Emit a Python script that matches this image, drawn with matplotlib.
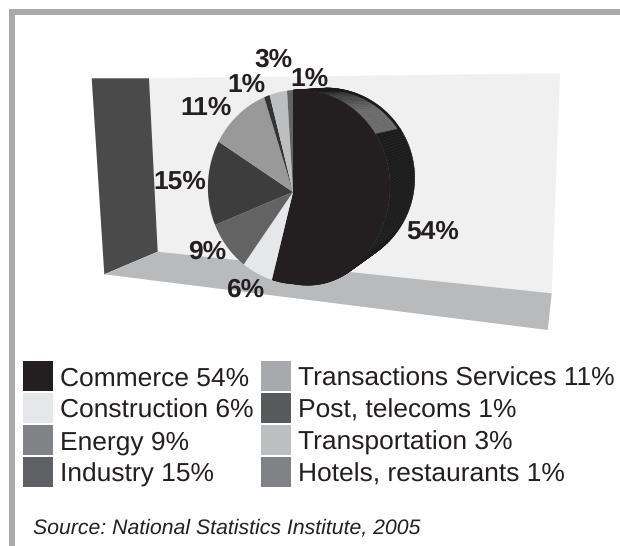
import numpy as np
import matplotlib
matplotlib.use("Agg")
import matplotlib.pyplot as plt
from matplotlib.patches import Polygon, Rectangle

plt.rcParams['font.family'] = ['Liberation Sans', 'DejaVu Sans']
plt.rcParams['text.hinting'] = 'none'

# Economic sectors, clockwise from twelve o'clock
sectors = ["Commerce", "Construction", "Energy", "Industry",
           "Transactions Services", "Post, telecoms", "Transportation",
           "Hotels, restaurants"]
shares = [54, 6, 9, 15, 11, 1, 3, 1]
slice_colors = ["#231f20", "#e6e7e8", "#636363", "#3d3d3d",
                "#999999", "#333333", "#bcbec0", "#636466"]
swatch_colors = ["#231f20", "#e6e7e8", "#808285", "#5f6064",
                 "#a7a9ac", "#58595b", "#bcbec0", "#808285"]
label_xy = [(433, 239), (245, 297), (207, 259), (180, 189),
            (206, 115), (246, 92), (273, 67), (309, 86)]

INK = "#231f20"
DPI = 100
fig = plt.figure(figsize=(6.2, 5.46), dpi=DPI, facecolor="white")
ax = fig.add_axes([0, 0, 1, 1])
ax.set_xlim(0, 620)
ax.set_ylim(546, 0)
ax.axis("off")

# Outer frame: top and left bars
ax.add_patch(Rectangle((9, 9), 611, 5.5, fc="#a7a9ac", ec="none"))
ax.add_patch(Rectangle((9, 9), 6, 537, fc="#a7a9ac", ec="none"))

# Walls and floor of the 3D scene
ax.add_patch(Polygon([(149, 78.3), (560, 73.3), (551.7, 293.3), (157.7, 251.7)],
                     fc="#f0f0f1", ec="none"))
ax.add_patch(Polygon([(91.7, 78.3), (149, 78.3), (157.7, 251.7), (104.3, 274.3)],
                     fc="#4a4a4a", ec="none"))
ax.add_patch(Polygon([(104.3, 274.3), (157.7, 251.7), (551.7, 293.3), (547.7, 330)],
                     fc="#b9babc", ec="none"))


def front(theta):
    """Project a clockwise-from-top angle onto the tilted front disc."""
    u, v = np.sin(theta), np.cos(theta)
    w = 1 - 0.066 * u - 0.052 * v
    sag = 10 * np.clip(u, 0, None) * np.clip(-v, 0, None) ** 2
    return 293 + 90.6 * u / w, 192 - 96.7 * v / w + sag


def back(theta):
    """Same angle on the disc's rear rim, shifted right and up."""
    u, v = np.sin(theta), np.cos(theta)
    return 326 + 88.7 * u, 178 - 90 * v


edges = np.cumsum([0] + shares) / 100 * 2 * np.pi

# Side wall of the largest slice, built from small facets
steps = np.linspace(edges[0], edges[1], 121)
for a, b in zip(steps[:-1], steps[1:]):
    deg = np.degrees((a + b) / 2)
    if 16 <= deg <= 57:
        level = 0.14 + 0.28 * min((deg - 16) / 24, 1)
    else:
        level = 0.105
    fx, fy = front(np.array([a, b]))
    bx, by = back(np.array([a, b]))
    ax.add_patch(Polygon(np.column_stack([[fx[0], fx[1], bx[1], bx[0]],
                                          [fy[0], fy[1], by[1], by[0]]]),
                         fc=str(level), ec=str(level), lw=0.4))

# Dark band along the top of the rear rim
rim = np.radians(np.linspace(0, 58, 60))
rx, ry = back(rim)
ax.plot(rx - 0.8, ry + 0.8, color="#1a1a1a", lw=1.8, solid_capstyle="butt")

# Front face of the pie
for start, stop, color in zip(edges[:-1], edges[1:], slice_colors):
    arc = np.linspace(start, stop, 100)
    x, y = front(arc)
    ax.add_patch(Polygon(np.column_stack([np.r_[293, x], np.r_[192, y]]),
                         fc=color, ec="none"))

# Percentage labels around the pie
for share, (x, y) in zip(shares, label_xy):
    ax.text(x, y, f"{share}%", fontsize=19, fontweight="bold", color=INK,
            ha="center", va="baseline")

# Two-column legend
for i, (name, share, color) in enumerate(zip(sectors, shares, swatch_colors)):
    col, row = i // 4, i % 4
    x0 = 23 + 238 * col
    y0 = 361 + 32 * row
    ax.add_patch(Rectangle((x0, y0), 30, 30, fc=color, ec="none"))
    ax.text(x0 + 37, y0 + 25, f"{name} {share}%", fontsize=19, color=INK,
            ha="left", va="baseline")

ax.text(33, 533, "Source: National Statistics Institute, 2005", fontsize=15.3,
        style="italic", color=INK, ha="left", va="baseline")

fig.savefig("out.png", dpi=DPI)
